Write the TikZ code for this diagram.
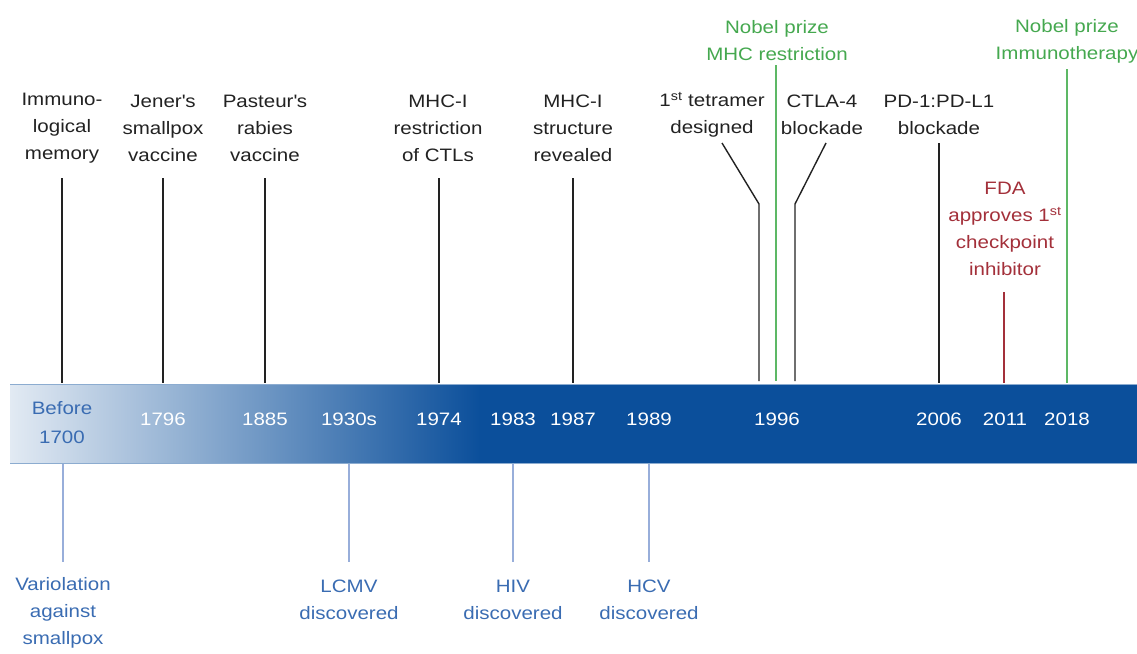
\documentclass[tikz,border=0pt]{standalone}
\usepackage{fontspec}
\setmainfont{Liberation Sans}[FakeStretch=1.14]
\definecolor{txt}{HTML}{222222}
\definecolor{nobel}{HTML}{45A84F}
\definecolor{nobelline}{HTML}{5DB865}
\definecolor{fda}{HTML}{A3303A}
\definecolor{disc}{HTML}{3A6CB2}
\definecolor{discline}{HTML}{98AEDA}
\definecolor{barlight}{HTML}{E2EAF3}
\definecolor{bardark}{HTML}{0B4F9B}
\begin{document}
\begin{tikzpicture}[x=1pt,y=-1pt,
  lab/.style={align=center,inner sep=0pt,font=\fontsize{18}{27}\selectfont,text=txt},
  nob/.style={lab,text=nobel},
  fdalab/.style={lab,text=fda},
  disclab/.style={lab,text=disc},
  year/.style={inner sep=0pt,font=\fontsize{18}{27}\selectfont,text=white},
  tick/.style={draw=txt,line width=1.4pt},
  nobtick/.style={draw=nobelline,line width=1.4pt},
  fdatick/.style={draw=fda,line width=1.4pt},
  disctick/.style={draw=discline,line width=1.4pt}]
\useasboundingbox (0,0) rectangle (1137,653);
% bar
\shade[left color=barlight,right color=bardark,shading angle=90] (10,384) rectangle (480,463);
\fill[bardark] (479,384) rectangle (1137,463);
\draw[barlight!60!bardark,line width=0.8pt] (10,384) -- (1137,384);
\draw[barlight!60!bardark,line width=0.8pt] (10,463) -- (1137,463);
% top labels
\node[lab] (imm) at (62,128) {Immuno-\\logical\\memory};
\node[lab] (jen) at (163,128) {Jener\textquotesingle s\\smallpox\\vaccine};
\node[lab] (pas) at (265,128) {Pasteur\textquotesingle s\\rabies\\vaccine};
\node[lab] (mhcr) at (438,128) {MHC-I\\restriction\\of CTLs};
\node[lab] (mhcs) at (573,128) {MHC-I\\structure\\revealed};
\node[lab] (tet) at (712,115) {1\textsuperscript{st} tetramer\\designed};
\node[lab] (ctla) at (822,115) {CTLA-4\\blockade};
\node[lab] (pd) at (939,115) {PD-1:PD-L1\\blockade};
\node[nob] (nobm) at (777,41) {Nobel prize\\MHC restriction};
\node[nob] (nobi) at (1067,41) {Nobel prize\\Immunotherapy};
\node[fdalab] (fdan) at (1005,229) {FDA\\approves 1\textsuperscript{st}\\checkpoint\\inhibitor};
% bottom labels
\node[disclab] (var) at (63,613) {Variolation\\against\\smallpox};
\node[disclab] (lcmv) at (349,600) {LCMV\\discovered};
\node[disclab] (hiv) at (513,600) {HIV\\discovered};
\node[disclab] (hcv) at (649,600) {HCV\\discovered};
% year labels
\node[year,text=disc,align=center,font=\fontsize{18}{29}\selectfont] (y1700) at (62,423) {Before\\1700};
\node[year] (y1796) at (163,419) {1796};
\node[year] (y1885) at (265,419) {1885};
\node[year] (y1930) at (349,419) {1930s};
\node[year] (y1974) at (439,419) {1974};
\node[year] (y1983) at (513,419) {1983};
\node[year] (y1987) at (573,419) {1987};
\node[year] (y1989) at (649,419) {1989};
\node[year] (y1996) at (777,419) {1996};
\node[year] (y2006) at (939,419) {2006};
\node[year] (y2011) at (1005,419) {2011};
\node[year] (y2018) at (1067,419) {2018};
% coordinates
\coordinate (immT) at (62,178); \coordinate (immB) at (62,383);
\coordinate (jenT) at (163,178); \coordinate (jenB) at (163,383);
\coordinate (pasT) at (265,178); \coordinate (pasB) at (265,383);
\coordinate (mhcrT) at (439,178); \coordinate (mhcrB) at (439,383);
\coordinate (mhcsT) at (573,178); \coordinate (mhcsB) at (573,383);
\coordinate (tetA) at (722,143); \coordinate (tetK) at (759,204); \coordinate (tetB) at (759,381);
\coordinate (ctlA) at (826,143); \coordinate (ctlK) at (795,204); \coordinate (ctlB) at (795,381);
\coordinate (pdT) at (939,143); \coordinate (pdB) at (939,383);
\coordinate (nobmT) at (776,65); \coordinate (nobmB) at (776,381);
\coordinate (nobiT) at (1067,69); \coordinate (nobiB) at (1067,383);
\coordinate (fdaT) at (1004,292); \coordinate (fdaB) at (1004,383);
\coordinate (varT) at (63,464); \coordinate (varB) at (63,562);
\coordinate (lcmT) at (349,464); \coordinate (lcmB) at (349,562);
\coordinate (hivT) at (513,464); \coordinate (hivB) at (513,562);
\coordinate (hcvT) at (649,464); \coordinate (hcvB) at (649,562);
% ticks
\draw[tick] (immT) -- (immB);
\draw[tick] (jenT) -- (jenB);
\draw[tick] (pasT) -- (pasB);
\draw[tick] (mhcrT) -- (mhcrB);
\draw[tick] (mhcsT) -- (mhcsB);
\draw[tick] (tetA) -- (tetK) -- (tetB);
\draw[tick] (ctlA) -- (ctlK) -- (ctlB);
\draw[tick] (pdT) -- (pdB);
\draw[nobtick] (nobmT) -- (nobmB);
\draw[nobtick] (nobiT) -- (nobiB);
\draw[fdatick] (fdaT) -- (fdaB);
\draw[disctick] (varT) -- (varB);
\draw[disctick] (lcmT) -- (lcmB);
\draw[disctick] (hivT) -- (hivB);
\draw[disctick] (hcvT) -- (hcvB);
\end{tikzpicture}
\end{document}
